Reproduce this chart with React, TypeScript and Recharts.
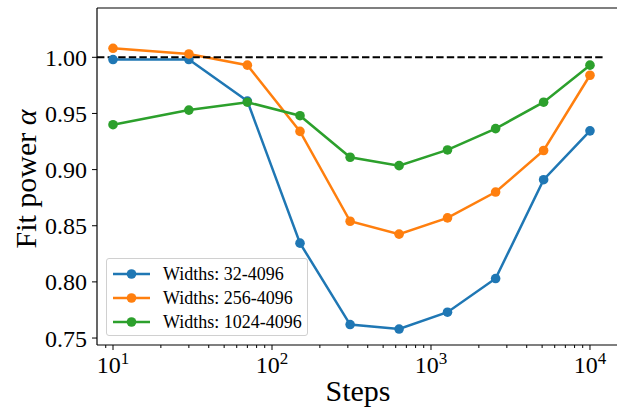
import {
  LineChart,
  Line,
  XAxis,
  YAxis,
  Legend,
  ReferenceLine,
} from "recharts";

const steps = [10, 30, 70, 150, 310, 630, 1270, 2550, 5110, 10000];
const widths32 = [0.998, 0.998, 0.961, 0.8345, 0.762, 0.758, 0.773, 0.803, 0.891, 0.9345];
const widths256 = [1.008, 1.003, 0.993, 0.934, 0.854, 0.8425, 0.857, 0.88, 0.917, 0.984];
const widths1024 = [0.94, 0.953, 0.96, 0.948, 0.911, 0.9035, 0.9175, 0.9365, 0.96, 0.993];

const seriesNames = ["Widths: 32-4096", "Widths: 256-4096", "Widths: 1024-4096"];
const colors = ["#1f77b4", "#ff7f0e", "#2ca02c"];

const yTicks = [0.75, 0.8, 0.85, 0.9, 0.95, 1.0];
const majorTicks = [10, 100, 1000, 10000];
const minorTicks = [
  9, 20, 30, 40, 50, 60, 70, 80, 90, 200, 300, 400, 500, 600, 700, 800, 900,
  2000, 3000, 4000, 5000, 6000, 7000, 8000, 9000,
];

const X_MIN = 7.93;
const X_MAX = 14790;
const Y_MIN = 0.7438;
const Y_MAX = 1.0439;

const FONT = "'Liberation Serif', 'DejaVu Serif', serif";

const data = steps.map((s, i) => ({
  step: s,
  a: widths32[i],
  b: widths256[i],
  c: widths1024[i],
}));
const keys = ["a", "b", "c"];

const XTick = (props: any) => {
  const { x, y, payload } = props;
  const v = payload.value;
  const major = majorTicks.includes(v);
  return (
    <g>
      <line x1={x} x2={x} y1={y} y2={y + (major ? 5 : 3)} stroke="#000" strokeWidth={1} />
      {major && (
        <text x={x} y={y + 28} textAnchor="middle" fontSize={24} fontFamily={FONT} fill="#000">
          10
          <tspan dy={-9} fontSize={17}>
            {Math.round(Math.log10(v))}
          </tspan>
        </text>
      )}
    </g>
  );
};

const YLabel = () => (
  <text
    x={0}
    y={0}
    transform="translate(36, 179) rotate(-90)"
    textAnchor="middle"
    fontSize={30}
    fontFamily={FONT}
    fill="#000"
  >
    Fit power <tspan fontStyle="italic">α</tspan>
  </text>
);

const XLabel = () => (
  <text x={358} y={401} textAnchor="middle" fontSize={30} fontFamily={FONT} fill="#000">
    Steps
  </text>
);

const renderLegend = () => (
  <div
    style={{
      border: "1px solid #d0d0d0",
      borderRadius: 3,
      background: "rgba(255,255,255,0.8)",
      padding: "3px 0",
      boxSizing: "border-box",
      width: 202,
      height: 78,
    }}
  >
    {seriesNames.map((name, i) => (
      <div key={name} style={{ display: "flex", alignItems: "center", height: 24 }}>
        <svg width={56} height={14} style={{ flexShrink: 0 }}>
          <line x1={6} x2={43} y1={7} y2={7} stroke={colors[i]} strokeWidth={2.5} />
          <circle cx={24.5} cy={7} r={4.8} fill={colors[i]} />
        </svg>
        <span style={{ fontFamily: FONT, fontSize: 18, color: "#000", whiteSpace: "nowrap" }}>
          {name}
        </span>
      </div>
    ))}
  </div>
);

export default function App() {
  return (
    <div style={{ position: "absolute", left: 0, top: 0, background: "#fff" }}>
      <LineChart
        width={617}
        height={408}
        data={data}
        margin={{ top: 8, right: 0, bottom: 0, left: 0 }}
      >
        <XAxis
          dataKey="step"
          type="number"
          scale="log"
          domain={[X_MIN, X_MAX]}
          allowDataOverflow
          ticks={[...majorTicks, ...minorTicks].sort((p, q) => p - q)}
          interval={0}
          tick={<XTick />}
          tickLine={false}
          tickSize={0}
          tickMargin={0}
          height={63}
          axisLine={{ stroke: "#000", strokeWidth: 1.2 }}
          label={<XLabel />}
        />
        <YAxis
          type="number"
          domain={[Y_MIN, Y_MAX]}
          allowDataOverflow
          ticks={yTicks}
          interval={0}
          tickFormatter={(v: number) => v.toFixed(2)}
          tick={{ fontSize: 24, fill: "#000", fontFamily: FONT }}
          tickLine={{ stroke: "#000" }}
          tickSize={5}
          tickMargin={5}
          width={97}
          axisLine={{ stroke: "#000", strokeWidth: 1.2 }}
          label={<YLabel />}
        />
        <ReferenceLine y={Y_MAX} stroke="#000" strokeWidth={1.2} />
        {keys.map((k, i) => (
          <Line
            key={k}
            dataKey={k}
            name={seriesNames[i]}
            stroke={colors[i]}
            strokeWidth={2.5}
            dot={{ r: 4.8, fill: colors[i], stroke: "none" }}
            activeDot={false}
            isAnimationActive={false}
          />
        ))}
        <ReferenceLine
          segment={[
            { x: X_MIN, y: 1 },
            { x: 12000, y: 1 },
          ]}
          stroke="#000"
          strokeWidth={2}
          strokeDasharray="7.4 3.2"
        />
        <Legend
          layout="vertical"
          align="center"
          verticalAlign="middle"
          content={renderLegend}
          wrapperStyle={{ left: 106, top: 258, width: 202, height: 78 }}
        />
      </LineChart>
    </div>
  );
}
